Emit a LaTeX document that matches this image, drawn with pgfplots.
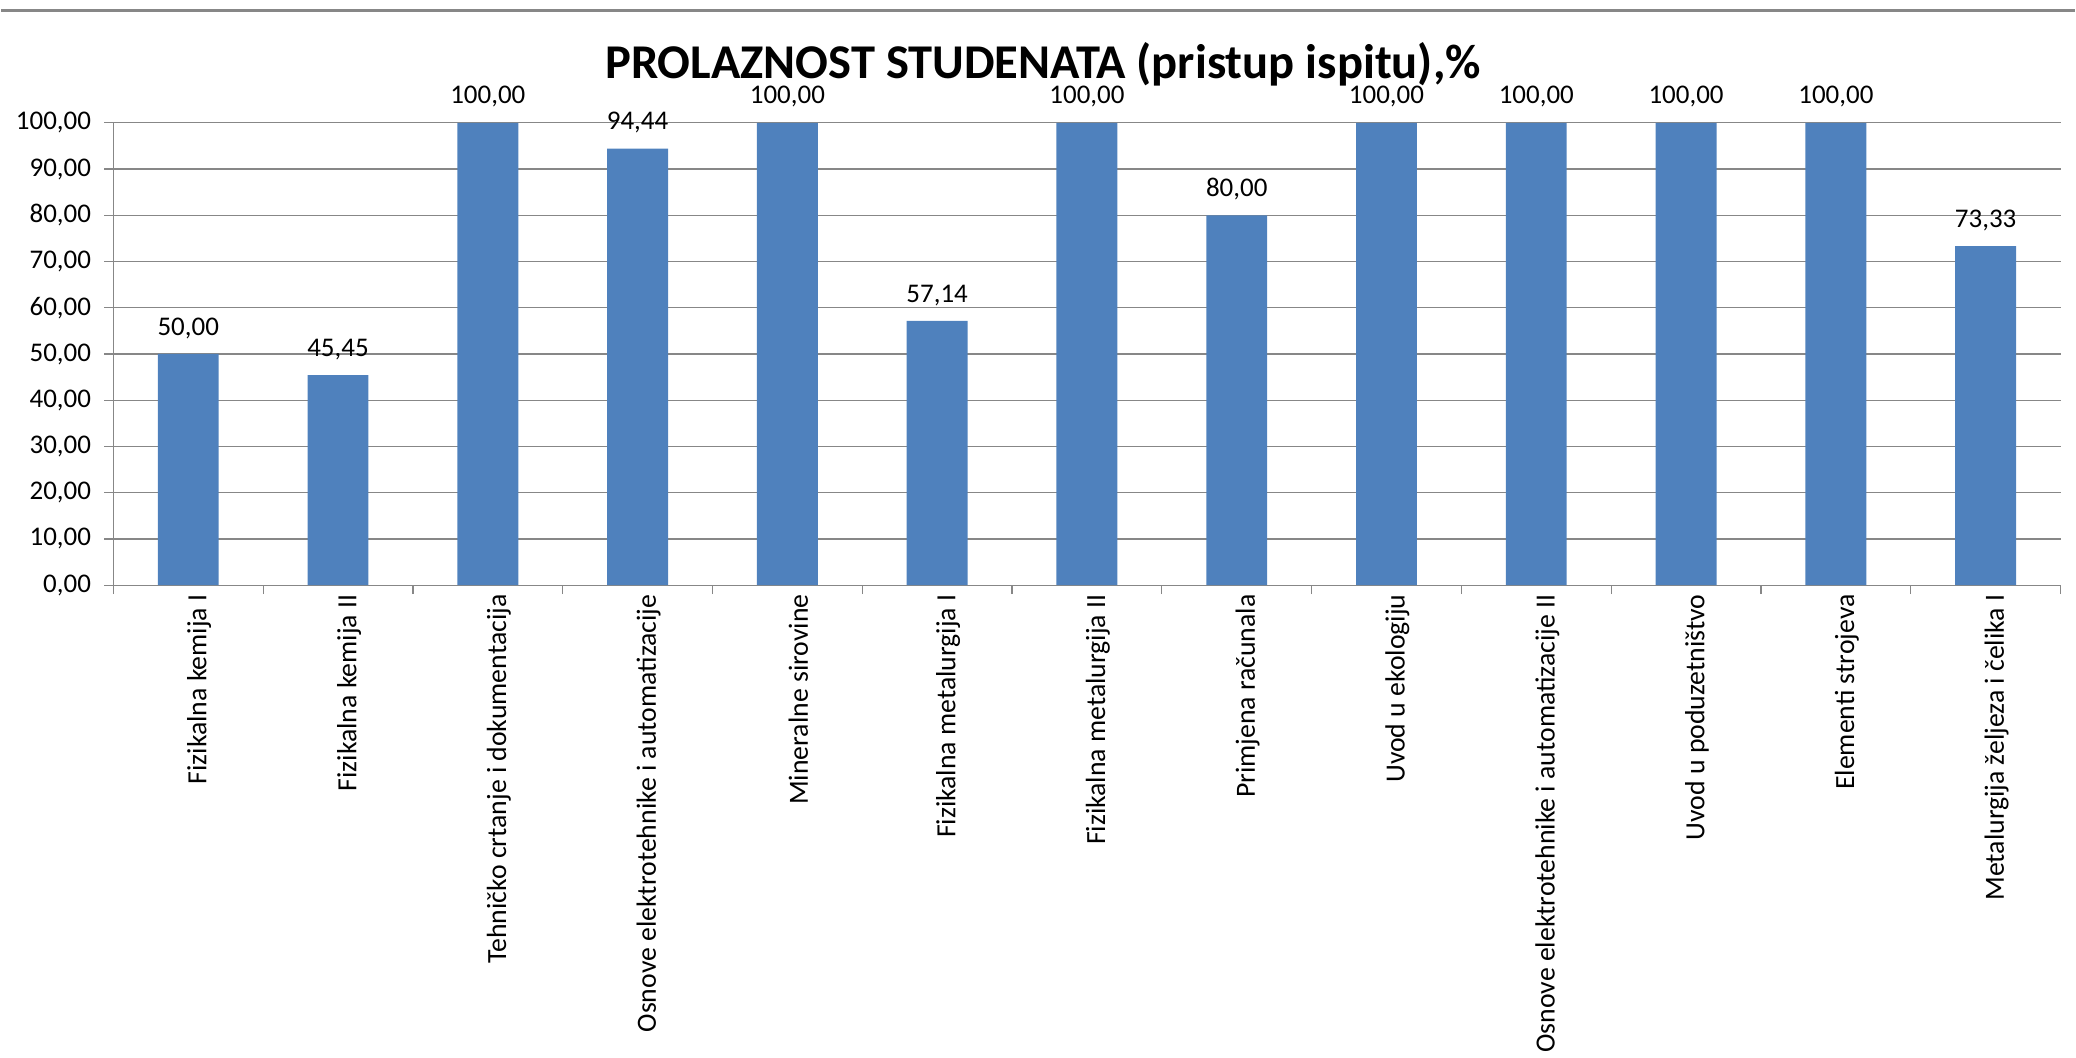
\documentclass[border=0pt]{standalone}
\usepackage{pgfplots}
\pgfplotsset{compat=1.18}
\usepackage{fontspec}
\setmainfont{Carlito}
\definecolor{barblue}{HTML}{4F81BD}
\definecolor{gridgray}{HTML}{878787}
\begin{document}
\begin{tikzpicture}[x=1pt,y=1pt]
\path (0,0) rectangle (1038,529.5);
\draw[color=gridgray, line width=1.5pt] (0,524) -- (1038,524);
\node[font=\bfseries\fontsize{24.3}{26}\selectfont, anchor=base, inner sep=0pt] at (521.5,490) {PROLAZNOST STUDENATA (pristup ispitu),\%};
\begin{axis}[
  at={(56pt,236.5pt)}, anchor=south west,
  scale only axis, width=975pt, height=231.5pt,
  xmin=-0.5, xmax=12.5, ymin=0, ymax=100,
  ytick={0,10,...,100},
  xtick={-0.5,0.5,...,12.5},
  x tick label as interval,
  xticklabels={Fizikalna kemija I, Fizikalna kemija II, Tehničko crtanje i dokumentacija, Osnove elektrotehnike i automatizacije, Mineralne sirovine, Fizikalna metalurgija I, Fizikalna metalurgija II, Primjena računala, Uvod u ekologiju, Osnove elektrotehnike i automatizacije II, Uvod u poduzetništvo, Elementi strojeva, Metalurgija željeza i čelika I},
  x tick label style={rotate=90, anchor=east, font=\fontsize{13.9}{15}\selectfont, inner sep=0pt, xshift=0pt, yshift=-5.5pt},
  y tick label style={font=\fontsize{13.5}{15}\selectfont, inner sep=0pt, xshift=-6.5pt},
  axis lines*=left,
  axis line style={gridgray, line width=0.6pt},
  tick align=outside,
  major tick length=4.5pt,
  tick style={gridgray, line width=0.6pt},
  ymajorgrids,
  grid style={gridgray, line width=0.6pt},
  clip=false,
  /pgf/number format/fixed,
  /pgf/number format/fixed zerofill,
  /pgf/number format/precision=2,
  /pgf/number format/use comma,
  /pgf/number format/assume math mode=true,
  nodes near coords={\pgfmathprintnumber[fixed,fixed zerofill,precision=2,use comma,assume math mode=true]{\pgfplotspointmeta}},
  every node near coord/.append style={font=\fontsize{13.5}{15}\selectfont, anchor=south, inner sep=0pt, yshift=7.5pt, black},
]
\addplot[ybar, bar width=30.5pt, fill=barblue, draw=none] coordinates {
(0,50) (1,45.45) (2,100) (3,94.44) (4,100) (5,57.14) (6,100) (7,80) (8,100) (9,100) (10,100) (11,100) (12,73.33)
};
\end{axis}
\end{tikzpicture}
\end{document}
